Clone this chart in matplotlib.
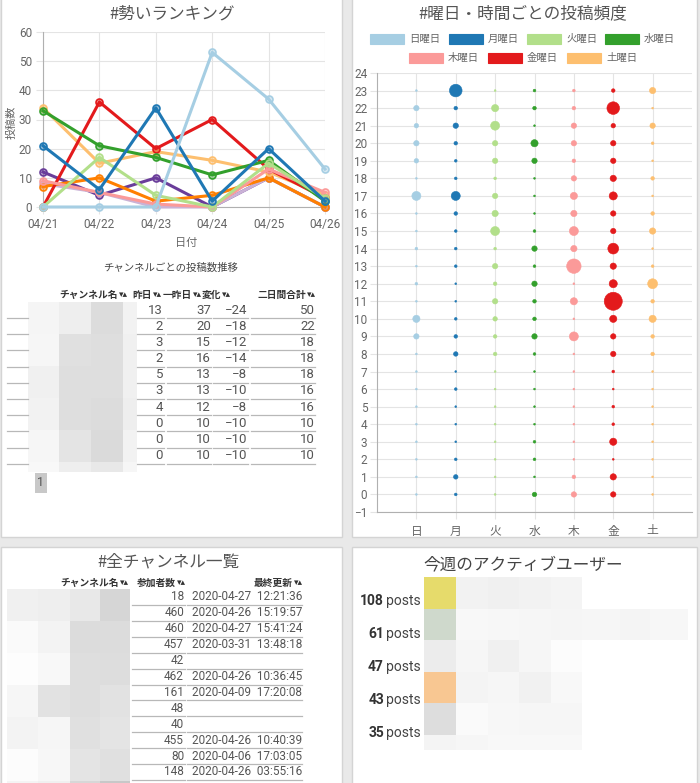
import matplotlib
matplotlib.use("Agg")
import matplotlib.pyplot as plt
from matplotlib import font_manager
from matplotlib.colors import to_rgba
from matplotlib.patches import Rectangle

installed = {f.name for f in font_manager.fontManager.ttflist}
NARROW = "Liberation Sans Narrow" if "Liberation Sans Narrow" in installed else "Roboto"
JP = "Noto Sans CJK JP"
plt.rcParams["font.family"] = [JP, "DejaVu Sans"]

W, H = 700, 783

# ---------------- data ----------------
dates = ["04/21", "04/22", "04/23", "04/24", "04/25", "04/26"]
paired = ["#a6cee3", "#1f78b4", "#b2df8a", "#33a02c", "#fb9a99",
          "#e31a1c", "#fdbf6f", "#ff7f00", "#cab2d6", "#6a3d9a"]
ch_lightblue = [0, 0, 0, 53, 37, 13]
ch_blue = [21, 6, 34, 2, 20, 2]
ch_lightgreen = [0, 17, 4, 0, 15, 3]
ch_green = [33, 21, 17, 11, 16, 2]
ch_pink = [9, 5, 1, 0, 13, 5]
ch_red = [0, 36, 20, 30, 13, 3]
ch_lightorange = [34, 15, 19, 16, 12, 4]
ch_orange = [7, 10, 2, 4, 10, 0]
ch_lightpurple = [8, 5, 0, 0, 10, 0]
ch_purple = [12, 4, 10, 0, 10, 0]
ranking = [ch_lightblue, ch_blue, ch_lightgreen, ch_green, ch_pink,
           ch_red, ch_lightorange, ch_orange, ch_lightpurple, ch_purple]

days = ["日", "月", "火", "水", "木", "金", "土"]
hours = list(range(24))
# bubble radius (px) per hour 0..23
r_sun = [1, 1, 1, 1, 1, 1, 1, 1, 1, 3, 4, 1, 1.5, 1, 1.5, 1, 1, 5, 1, 2.5, 3, 2.5, 3, 1]
r_mon = [1.5, 2.5, 1.5, 1, 1, 1, 1.5, 1, 2.5, 2, 1.5, 1, 1, 1.5, 1.5, 1.5, 2, 5, 1.5, 1.5, 2, 3, 2, 7]
r_tue = [1, 1, 1, 1, 1, 1, 1, 1, 2, 2, 2.5, 3, 2, 3, 1.5, 5, 3.5, 3, 1.5, 3, 3, 5, 4, 1]
r_wed = [2.5, 1, 1.5, 1.5, 1, 1, 1, 1, 1.5, 3, 2, 2, 3, 1.5, 3, 1.5, 1, 1, 1, 3, 4, 1, 2, 1.5]
r_thu = [3, 2, 1, 1, 1, 1, 1, 1, 1, 5, 1, 4, 1, 8, 3.5, 5, 3.5, 4, 3, 2, 3, 3, 2, 1.5]
r_fri = [3, 3.5, 1, 4, 1.5, 1.5, 1, 1.5, 3, 3, 4, 10, 4.5, 3.5, 6, 3, 3, 4.5, 3.5, 3, 3, 2.5, 7, 2]
r_sat = [1, 1, 1, 1, 1, 1, 1, 1, 2, 2, 4, 2, 5.5, 1.5, 1, 3.5, 2, 1, 2, 1, 1.5, 3, 1, 3.5]
bubbles = [r_sun, r_mon, r_tue, r_wed, r_thu, r_fri, r_sat]

members = [18, 460, 460, 457, 42, 462, 161, 48, 40, 455, 80, 148]
updated = ["2020-04-27  12:21:36", "2020-04-26  15:19:57", "2020-04-27  15:41:24",
           "2020-03-31  13:48:18", "", "2020-04-26  10:36:45", "2020-04-09  17:20:08",
           "", "", "2020-04-26  10:40:39", "2020-04-06  17:03:05", "2020-04-26  03:55:16"]

active_posts = [108, 61, 47, 43, 35]
avatar_colors = ["#e6db6b", "#cfd9cc", "#ececec", "#f8c792", "#dddddd"]

# pixelated (blurred) name cells, grey levels
blur_t1 = [[245, 238, 220, 242], [246, 224, 222, 240], [240, 222, 222, 240],
           [242, 222, 220, 238], [246, 228, 218, 242], [248, 238, 232, 246]]
blur_t2 = [[240, 238, 232, 214], [250, 243, 220, 220], [253, 248, 222, 221],
           [246, 226, 222, 226], [243, 246, 224, 228], [252, 247, 228, 224],
           [244, 240, 215, 200]]
blur_users = [[242, 240, 242, 244], [248, 247, 246, 245], [246, 240, 246, 252],
              [244, 246, 241, 248], [250, 247, 246, 246], [246, 248, 248, 248]]

# ---------------- figure ----------------
fig = plt.figure(figsize=(W / 100, H / 100), dpi=100)
fig.patch.set_facecolor("#e9e9e9")

bg = fig.add_axes([0, 0, 1, 1])
bg.set_xlim(0, W)
bg.set_ylim(H, 0)
bg.axis("off")


def px_axes(left, top, right, bottom):
    return fig.add_axes([left / W, 1 - bottom / H, (right - left) / W, (bottom - top) / H])


def mosaic(xe, ye, grays):
    for r, row in enumerate(grays):
        for c, g in enumerate(row):
            bg.add_patch(Rectangle((xe[c], ye[r]), xe[c + 1] - xe[c], ye[r + 1] - ye[r],
                                   facecolor=(g / 255, g / 255, g / 255), lw=0))


def header(text, x, y):
    # column header with the small sort arrows on its right
    bg.text(x, y, "▾▴", ha="right", va="center", fontsize=6.5, color="#333333",
            family="DejaVu Sans")
    bg.text(x - 10, y, text, ha="right", va="center", fontsize=7, color="#333333",
            fontweight="bold")


for (x0, y0, x1, y1) in [(1, -2, 342, 537), (352, -2, 697, 537),
                         (1, 547, 342, 790), (352, 547, 697, 790)]:
    bg.add_patch(Rectangle((x0, y0), x1 - x0, y1 - y0, facecolor="white",
                           edgecolor="#d4d4d4", lw=1))

TXT = "#555555"

# ---------------- ranking line chart ----------------
bg.text(172, 14, "#勢いランキング", ha="center", va="center", fontsize=12, color=TXT)
ax1 = px_axes(43, 32, 325, 207)
for i, (vals, c) in enumerate(zip(ranking, paired)):
    ax1.plot(range(len(dates)), vals, color=c, lw=2.2, marker="o", ms=5,
             mfc=to_rgba(c, 0.45), mec=c, mew=1.2, zorder=30 - i, clip_on=False)
ax1.set_xlim(0, len(dates) - 1)
ax1.set_ylim(0, 60)
ax1.set_yticks(range(0, 61, 10))
ax1.set_xticks(range(len(dates)))
ax1.set_xticklabels(dates)
ax1.grid(True, color="#e4e4e4", lw=0.8)
ax1.set_axisbelow(True)
for s in ["top", "right"]:
    ax1.spines[s].set_visible(False)
for s in ["left", "bottom"]:
    ax1.spines[s].set_color("#b0b0b0")
ax1.tick_params(length=5, color="#e4e4e4", labelcolor="#666666", labelsize=8.5, pad=3)
for lbl in ax1.get_xticklabels() + ax1.get_yticklabels():
    lbl.set_fontfamily(NARROW)
bg.text(12, 122, "投稿数", rotation=90, ha="center", va="center", fontsize=8, color="#666666")
bg.text(186, 243, "日付", ha="center", va="center", fontsize=8, color="#666666")

# ---------------- table: per-channel change ----------------
bg.text(171, 268, "チャンネルごとの投稿数推移", ha="center", va="center", fontsize=7.5, color="#444444")
rows1 = []
for s in ranking:
    rows1.append((s[-1], s[-2], s[-1] - s[-2], s[-1] + s[-2]))
rows1 = sorted(rows1, key=lambda r: -r[3])
for t, x in [("チャンネル名", 128), ("昨日", 162), ("一昨日", 202),
             ("変化", 231), ("二日間合計", 316)]:
    header(t, x, 295)
mosaic([28, 59, 91, 123, 137], [302, 334, 366, 398, 430, 462, 472], blur_t1)
col_right = [163, 211, 247, 315]
col_lines = [(137, 164), (167, 211), (213, 248), (251, 315)]
for r, row in enumerate(rows1):
    y = 310 + r * 16.2
    for v, x in zip(row, col_right):
        bg.text(x, y, str(v).replace("-", "\u2212"), ha="right", va="center",
                fontsize=9.5, color=TXT, family=NARROW)
    yl = y + 8
    bg.plot([7, 28], [yl, yl], color="#b8b8b8", lw=0.9)
    for a, b in col_lines:
        bg.plot([a, b], [yl, yl], color="#b8b8b8", lw=0.9)
bg.add_patch(Rectangle((35, 473), 12, 20, facecolor="#c8c8c8", lw=0))
bg.text(41, 483, "1", ha="center", va="center", fontsize=9, color="#555555", family=NARROW)

# ---------------- bubble chart ----------------
bg.text(523, 14, "#曜日・時間ごとの投稿頻度", ha="center", va="center", fontsize=12, color=TXT)
legend_pos = [(370, 39), (449, 39), (527, 39), (605, 39),
              (409, 58), (488, 58), (567, 58)]
for d, c, (lx, ly) in zip(days, paired, legend_pos):
    bg.add_patch(Rectangle((lx, ly - 5), 34, 10, facecolor=c, edgecolor=c, lw=0.8))
    bg.text(lx + 39, ly, d + "曜日", ha="left", va="center", fontsize=7.5, color="#666666")

ax2 = px_axes(377, 73, 692, 512)
for i, (rs, c) in enumerate(zip(bubbles, paired)):
    ax2.scatter([i] * len(hours), hours, s=[(1.3 * r) ** 2 for r in rs],
                color=c, edgecolors=c, linewidths=0.4, zorder=3, clip_on=False)
ax2.set_xlim(-1, 7)
ax2.set_ylim(-1, 24)
ax2.set_yticks(range(-1, 25))
ax2.set_xticks(range(len(days)))
ax2.set_xticklabels(days)
ax2.grid(True, color="#e4e4e4", lw=0.8)
ax2.set_axisbelow(True)
for s in ["top", "right"]:
    ax2.spines[s].set_visible(False)
for s in ["left", "bottom"]:
    ax2.spines[s].set_color("#b0b0b0")
ax2.tick_params(length=5, color="#e4e4e4", labelcolor="#666666", labelsize=8.5, pad=2)
ax2.tick_params(axis="x", labelsize=8.5, pad=4)
for lbl in ax2.get_yticklabels():
    lbl.set_fontfamily(NARROW)

# ---------------- table: all channels ----------------
bg.text(168, 562, "#全チャンネル一覧", ha="center", va="center", fontsize=12, color=TXT)
for t, x in [("チャンネル名", 129), ("参加者数", 186), ("最終更新", 303)]:
    header(t, x, 583)
mosaic([7, 38, 70, 100, 130], [589, 621, 653, 685, 717, 749, 781, 790], blur_t2)
for r, (m, u) in enumerate(zip(members, updated)):
    y = 597 + r * 15.9
    bg.text(184, y, str(m), ha="right", va="center", fontsize=8.5, color=TXT, family=NARROW)
    bg.text(302, y, u, ha="right", va="center", fontsize=8.5, color=TXT, family=NARROW)
    yl = y + 8
    bg.plot([132, 185], [yl, yl], color="#b8b8b8", lw=0.9)
    bg.plot([187, 302], [yl, yl], color="#b8b8b8", lw=0.9)

# ---------------- active users ----------------
bg.text(523, 565, "今週のアクティブユーザー", ha="center", va="center", fontsize=12, color="#444444")
ye = [577 + 31.6 * i for i in range(len(active_posts) + 1)] + [750]
for i, c in enumerate(avatar_colors):
    bg.add_patch(Rectangle((424, ye[i]), 32, ye[i + 1] - ye[i], facecolor=c, lw=0))
bg.add_patch(Rectangle((424, ye[-2]), 32, ye[-1] - ye[-2], facecolor="#f4f4f4", lw=0))
mosaic([456, 488, 519, 551, 582], ye, blur_users)
mosaic([582, 620, 650, 688], ye[1:3], [[246, 244, 247]])
for i, p in enumerate(active_posts):
    y = 601 + 33 * i
    bg.text(384, y, str(p), ha="right", va="center", fontsize=10, color="#333333",
            fontweight="bold", family=NARROW)
    bg.text(386, y, "posts", ha="left", va="center", fontsize=10, color="#444444", family=NARROW)

fig.savefig("out.png", dpi=100, facecolor=fig.get_facecolor())
